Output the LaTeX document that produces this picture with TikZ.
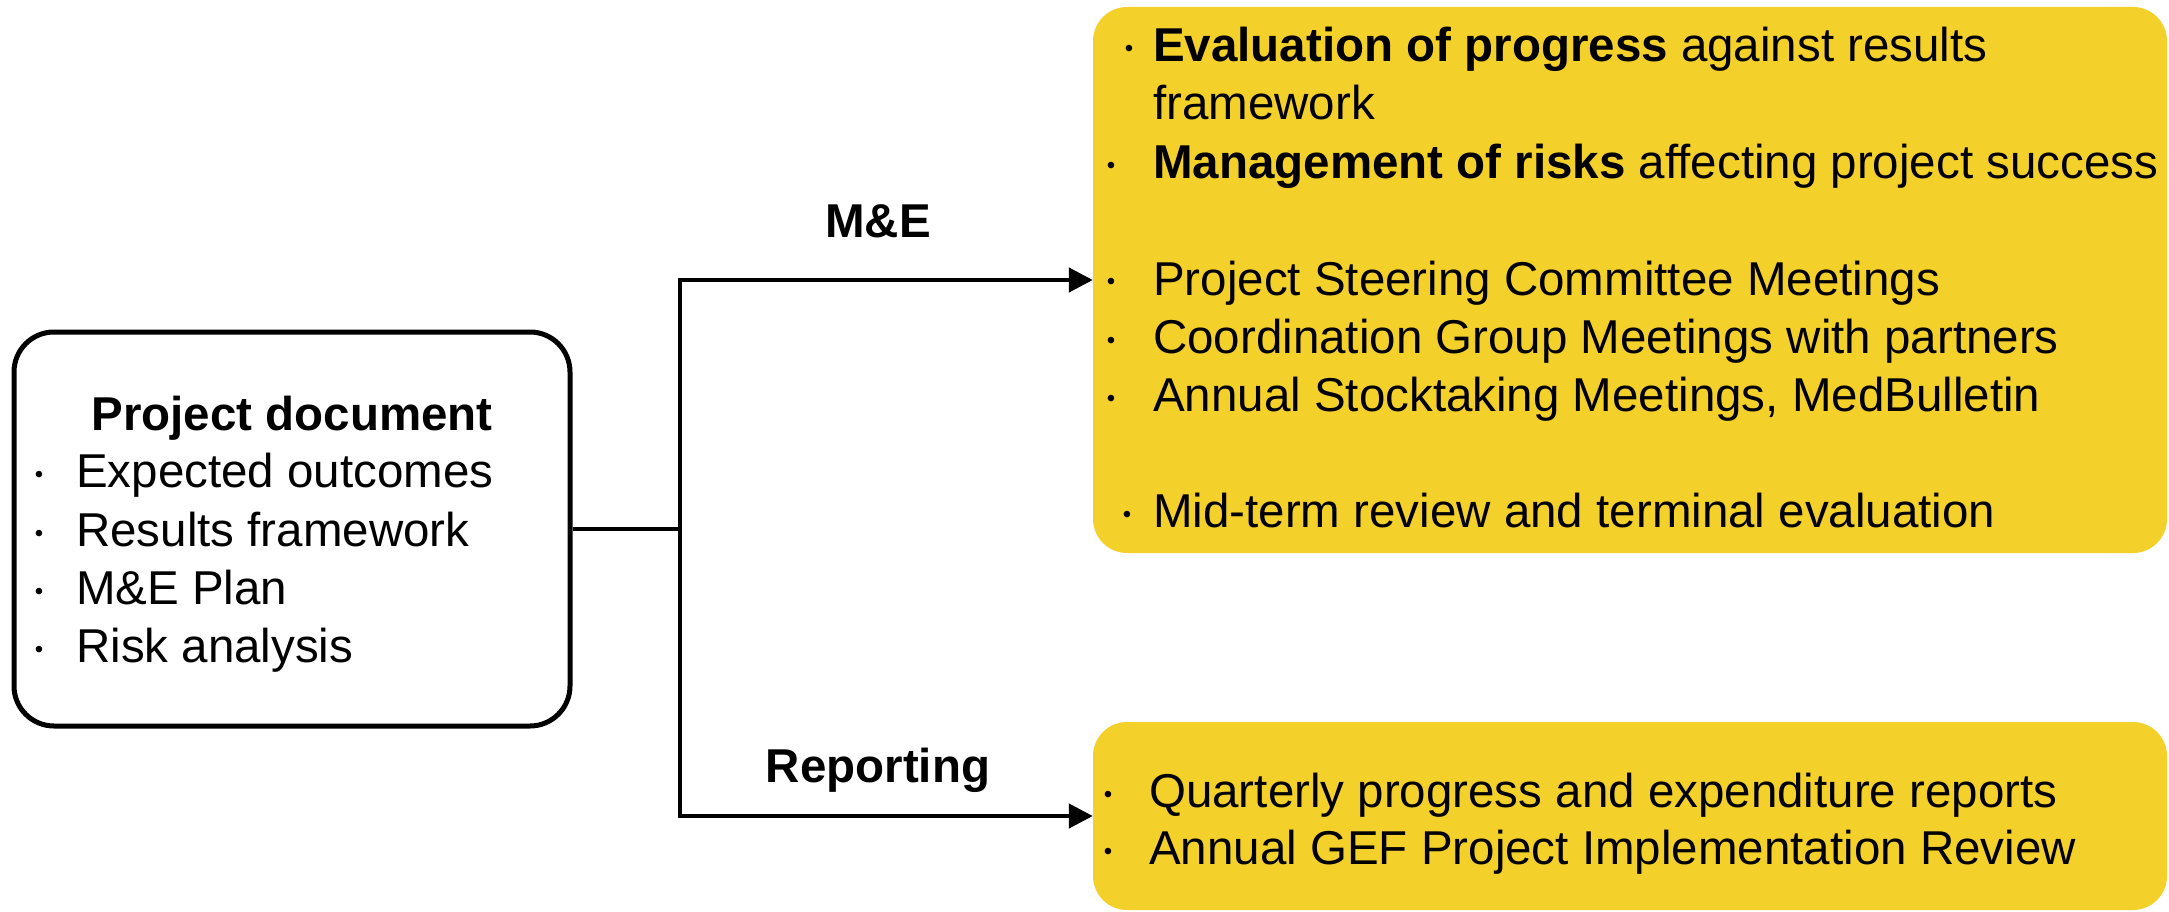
\documentclass[tikz,border=0pt]{standalone}
\usepackage{fontspec}
\setmainfont{Liberation Sans}
\usetikzlibrary{arrows.meta}
\definecolor{boxyellow}{RGB}{244,208,42}
\tikzset{
  docbox/.style={draw=black, line width=5pt, rounded corners=40pt, fill=white, inner sep=0pt},
  yelbox/.style={fill=boxyellow, draw=none, rounded corners=34pt, inner sep=0pt},
  txt/.style={anchor=base west, inner sep=0pt, font=\fontsize{47.5}{57}\selectfont},
  bul/.style={anchor=base, inner sep=0pt, yshift=5pt, font=\fontsize{24}{24}\selectfont},
  lbl/.style={anchor=base, inner sep=0pt, font=\fontsize{47.5}{57}\selectfont\bfseries},
  conn/.style={draw=black, line width=4.5pt},
  arr/.style={conn, -{Triangle[length=24pt,width=24pt]}}
}
\begin{document}
\begin{tikzpicture}[x=1pt,y=-1pt]
\useasboundingbox (0,0) rectangle (2169,912);
% boxes
\node[docbox, minimum width=556pt, minimum height=394pt] (doc) at (292,529) {};
\node[yelbox, minimum width=1074pt, minimum height=546pt] (me) at (1630,280) {};
\node[yelbox, minimum width=1074pt, minimum height=188pt] (rep) at (1630,816) {};
% left box text
\node[lbl] (doctitle) at (292,430) {Project document};
\node[bul] (b1) at (39,487) {•};
\node[txt] (t1) at (76,487) {Expected outcomes};
\node[bul] (b2) at (39,546) {•};
\node[txt] (t2) at (76,546) {Results framework};
\node[bul] (b3) at (39,604) {•};
\node[txt] (t3) at (76,604) {M\&E Plan};
\node[bul] (b4) at (39,662) {•};
\node[txt] (t4) at (76,662) {Risk analysis};
% top yellow box text
\node[bul] (m1b) at (1129,62) {•};
\node[txt] (m1) at (1153,62) {\textbf{Evaluation of progress} against results};
\node[txt] (m1c) at (1153,120) {framework};
\node[bul] (m2b) at (1111,179) {•};
\node[txt] (m2) at (1153,179) {\textbf{Management of risks} affecting project success};
\node[bul] (m3b) at (1111,295) {•};
\node[txt] (m3) at (1153,295) {Project Steering Committee Meetings};
\node[bul] (m4b) at (1111,353) {•};
\node[txt] (m4) at (1153,353) {Coordination Group Meetings with partners};
\node[bul] (m5b) at (1111,411) {•};
\node[txt] (m5) at (1153,411) {Annual Stocktaking Meetings, MedBulletin};
\node[bul] (m6b) at (1127,527) {•};
\node[txt] (m6) at (1153,527) {Mid-term review and terminal evaluation};
% bottom yellow box text
\node[bul] (r1b) at (1108,807) {•};
\node[txt] (r1) at (1149,807) {Quarterly progress and expenditure reports};
\node[bul] (r2b) at (1108,864) {•};
\node[txt] (r2) at (1149,864) {Annual GEF Project Implementation Review};
% connectors
\coordinate (j) at (680,529);
\draw[conn] (doc.east) -- (j);
\draw[arr] (j) |- (me.west);
\draw[arr] (j) |- (rep.west);
% labels
\node[lbl] (melbl) at (878,238) {M\&E};
\node[lbl] (replbl) at (878,782) {Reporting};
\end{tikzpicture}
\end{document}
